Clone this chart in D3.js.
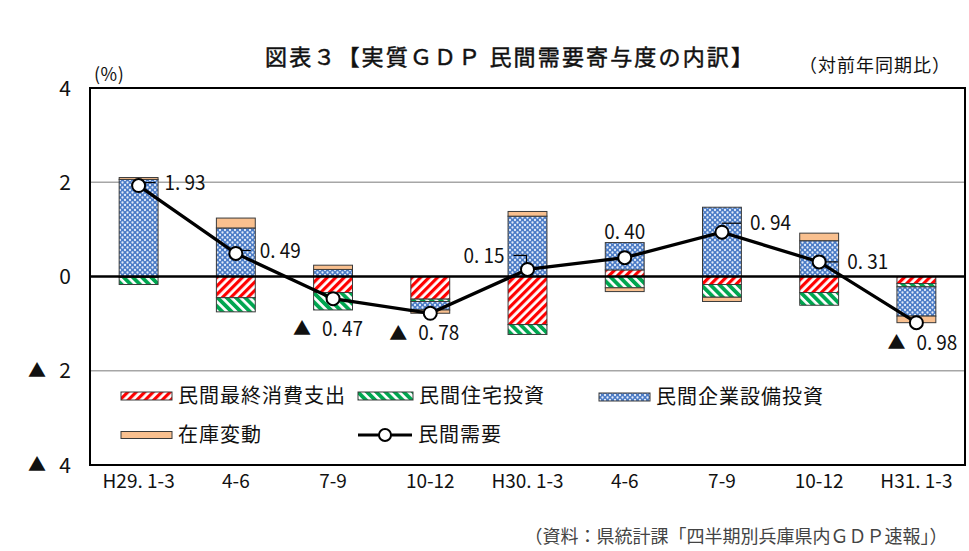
<!DOCTYPE html>
<html><head><meta charset="utf-8">
<script src="https://cdn.jsdelivr.net/npm/d3@7"></script>
<style>
body{margin:0;background:#fff;}
text{font-family:"Noto Sans CJK JP","Noto Sans",sans-serif;fill:#111;}
</style></head>
<body><svg id="c" width="969" height="551"></svg>
<script>
// ---- data ----
const categories = ["H29. 1-3","4-6","7-9","10-12","H30. 1-3","4-6","7-9","10-12","H31. 1-3"];
const consumption = [-0.02,-0.45,-0.34,-0.48,-1.02,0.14,-0.17,-0.34,-0.15]; // 民間最終消費支出
const housing     = [-0.15,-0.30,-0.37,-0.05,-0.21,-0.24,-0.27,-0.27,-0.07]; // 民間住宅投資
const business    = [2.06,1.03,0.15,-0.18,1.28,0.58,1.47,0.76,-0.62];        // 民間企業設備投資
const inventory   = [0.04,0.21,0.09,-0.07,0.10,-0.08,-0.09,0.16,-0.14];      // 在庫変動
const privateDemand = [1.93,0.49,-0.47,-0.78,0.15,0.40,0.94,0.31,-0.98];     // 民間需要
const yTicks = [4,2,0,-2,-4];
const seriesNames = ["民間最終消費支出","民間住宅投資","民間企業設備投資","在庫変動","民間需要"];
const titleText = "図表３【実質ＧＤＰ 民間需要寄与度の内訳】";
const unitText = "(%)";
const noteText = "（対前年同期比）";
const sourceText = "（資料：県統計課「四半期別兵庫県内ＧＤＰ速報」）";

// label placement (relative to marker), layout only
const labelLayout = [
  {dx:26,dy:-3,anchor:"start",leader:"h"},
  {dx:24,dy:-3,anchor:"start",leader:"h"},
  {dx:-40,dy:30,anchor:"start",leader:null},
  {dx:-41,dy:20,anchor:"start",leader:null},
  {dx:-23,dy:-14,anchor:"end",leader:"elbow"},
  {dx:0,dy:-26,anchor:"middle",leader:null},
  {dx:28,dy:-9,anchor:"start",leader:"h"},
  {dx:28,dy:0,anchor:"start",leader:"h"},
  {dx:-29,dy:20,anchor:"start",leader:null}
];

const svg = d3.select("#c");
const X0=90, X1=965, Y0=88, Y1=465;
const x = d3.scaleBand().domain(d3.range(categories.length)).range([X0,X1]).paddingInner(0.6).paddingOuter(0.3);
const y = d3.scaleLinear().domain([-4,4]).range([Y1,Y0]);

// patterns
const defs = svg.append("defs");
const pr = defs.append("pattern").attr("id","pRed").attr("patternUnits","userSpaceOnUse")
  .attr("width",6).attr("height",6).attr("patternTransform","rotate(45)");
pr.append("rect").attr("width",6).attr("height",6).attr("fill","#fff");
pr.append("rect").attr("width",3.2).attr("height",6).attr("fill","#ff0000");
const pg = defs.append("pattern").attr("id","pGreen").attr("patternUnits","userSpaceOnUse")
  .attr("width",6.5).attr("height",6.5).attr("patternTransform","rotate(-45)");
pg.append("rect").attr("width",6.5).attr("height",6.5).attr("fill","#fff");
pg.append("rect").attr("width",3.8).attr("height",6.5).attr("fill","#00a650");
const pb = defs.append("pattern").attr("id","pBlue").attr("patternUnits","userSpaceOnUse")
  .attr("width",5).attr("height",5);
pb.append("rect").attr("width",5).attr("height",5).attr("fill","#4a7bc6");
[[0,0],[5,0],[0,5],[5,5],[2.5,2.5]].forEach(p=>pb.append("circle").attr("cx",p[0]).attr("cy",p[1]).attr("r",1.15).attr("fill","#e3ebf8"));
const fills = ["url(#pRed)","url(#pGreen)","url(#pBlue)","#f9c08f"];

// gridlines
svg.append("g").selectAll("line").data([2,-2]).join("line")
  .attr("x1",X0).attr("x2",X1).attr("y1",d=>y(d)).attr("y2",d=>y(d))
  .attr("stroke","#a6a6a6").attr("stroke-width",1.5);

// stacked bars
const rows = categories.map((c,i)=>({i,consumption:consumption[i],housing:housing[i],business:business[i],inventory:inventory[i]}));
const keys = ["consumption","housing","business","inventory"];
const stack = d3.stack().keys(keys).offset(d3.stackOffsetDiverging)(rows);
svg.append("g").selectAll("g").data(stack).join("g")
  .attr("fill",(d,k)=>fills[k])
  .selectAll("rect").data(d=>d).join("rect")
  .attr("x",d=>x(d.data.i)).attr("width",x.bandwidth())
  .attr("y",d=>y(Math.max(d[0],d[1]))).attr("height",d=>Math.abs(y(d[0])-y(d[1])))
  .attr("stroke","#3a3a3a").attr("stroke-width",1);

// zero line
svg.append("line").attr("x1",X0).attr("x2",X1).attr("y1",y(0)).attr("y2",y(0))
  .attr("stroke","#000").attr("stroke-width",2.5);

// plot frame
svg.append("rect").attr("x",X0).attr("y",Y0).attr("width",X1-X0).attr("height",Y1-Y0)
  .attr("fill","none").attr("stroke","#000").attr("stroke-width",2);

// line + leaders + markers
const cx = i=>x(i)+x.bandwidth()/2;
const line = d3.line().x((d,i)=>cx(i)).y(d=>y(d));
svg.append("path").datum(privateDemand).attr("d",line).attr("fill","none")
  .attr("stroke","#000").attr("stroke-width",3.3);

const fmt = v=>d3.format(".2f")(Math.abs(v)).replace(".",". ");
privateDemand.forEach((v,i)=>{
  const L = labelLayout[i], px=cx(i), py=y(v);
  const lx = px+L.dx, ly = py+L.dy;
  if(L.leader==="h"){
    svg.append("line").attr("x1",px).attr("x2",lx-9).attr("y1",ly).attr("y2",ly)
      .attr("stroke","#000").attr("stroke-width",1.2);
  } else if(L.leader==="elbow"){
    svg.append("polyline").attr("points",`${lx+9},${ly} ${px-1},${ly} ${px-1},${py}`)
      .attr("fill","none").attr("stroke","#000").attr("stroke-width",1.2);
  }
});
svg.append("g").selectAll("circle").data(privateDemand).join("circle")
  .attr("cx",(d,i)=>cx(i)).attr("cy",d=>y(d)).attr("r",6.5)
  .attr("fill","#fff").attr("stroke","#000").attr("stroke-width",2);

privateDemand.forEach((v,i)=>{
  const L = labelLayout[i], px=cx(i), py=y(v);
  const lx = px+L.dx, ly = py+L.dy;
  if(v<0){
    svg.append("text").attr("x",lx).attr("y",ly).attr("dy","0.36em").attr("font-size",18).text("▲");
    svg.append("text").attr("x",lx+29).attr("y",ly).attr("dy","0.36em").attr("font-size",20)
      .attr("textLength",41).attr("lengthAdjust","spacingAndGlyphs").text(fmt(v));
  } else {
    svg.append("text").attr("x",lx).attr("y",ly).attr("dy","0.36em").attr("font-size",20)
      .attr("text-anchor",L.anchor).attr("textLength",41).attr("lengthAdjust","spacingAndGlyphs").text(fmt(v));
  }
});

// y tick labels
const yt = svg.append("g");
yTicks.forEach(t=>{
  yt.append("text").attr("x",71).attr("y",y(t)).attr("dy","0.36em").attr("font-size",21)
    .attr("text-anchor","end").text(Math.abs(t));
  if(t<0) yt.append("text").attr("x",46).attr("y",y(t)).attr("dy","0.36em").attr("font-size",18)
    .attr("text-anchor","end").text("▲");
});

// x axis labels
const xa = svg.append("g").attr("transform",`translate(0,${Y1})`)
  .call(d3.axisBottom(x).tickSize(0).tickPadding(10).tickFormat(i=>categories[i]));
xa.select(".domain").remove();
xa.selectAll("text").attr("font-size",19).attr("fill","#111")
  .style("font-family",'"Noto Sans CJK JP",sans-serif');

// titles
svg.append("text").attr("x",509).attr("y",57).attr("dy","0.36em").attr("text-anchor","middle")
  .attr("font-size",22).attr("stroke","#111").attr("stroke-width",0.5)
  .attr("textLength",488).attr("lengthAdjust","spacing").text(titleText);
svg.append("text").attr("x",94).attr("y",75).attr("dy","0.36em").attr("font-size",18).attr("letter-spacing",0.5).text(unitText);
svg.append("text").attr("x",875).attr("y",66).attr("dy","0.36em").attr("text-anchor","middle")
  .attr("font-size",18).attr("letter-spacing",1).text(noteText);
svg.append("text").attr("x",736).attr("y",537).attr("dy","0.36em").attr("text-anchor","middle")
  .attr("font-size",18).attr("fill","#444").style("fill","#444").text(sourceText);

// legend
const legendItems = [
  {name:seriesNames[0],fill:fills[0],sx:121,ty:396,sw:51,sh:8},
  {name:seriesNames[1],fill:fills[1],sx:358,ty:396,sw:55,sh:8},
  {name:seriesNames[2],fill:fills[2],sx:599,ty:397,sw:51,sh:8},
  {name:seriesNames[3],fill:fills[3],sx:121,ty:435,sw:51,sh:7}
];
const lg = svg.append("g");
legendItems.forEach(d=>{
  lg.append("rect").attr("x",d.sx).attr("y",d.ty-d.sh/2).attr("width",d.sw).attr("height",d.sh)
    .attr("fill",d.fill).attr("stroke","#3a3a3a").attr("stroke-width",1);
  lg.append("text").attr("x",d.sx+d.sw+6).attr("y",d.ty).attr("dy","0.36em")
    .attr("font-size",20).attr("letter-spacing",1).text(d.name);
});
lg.append("line").attr("x1",358).attr("x2",412).attr("y1",435).attr("y2",435).attr("stroke","#000").attr("stroke-width",3);
lg.append("circle").attr("cx",385).attr("cy",435).attr("r",6).attr("fill","#fff").attr("stroke","#000").attr("stroke-width",2);
lg.append("text").attr("x",418).attr("y",435).attr("dy","0.36em").attr("font-size",20).attr("letter-spacing",1).text(seriesNames[4]);
</script></body></html>
